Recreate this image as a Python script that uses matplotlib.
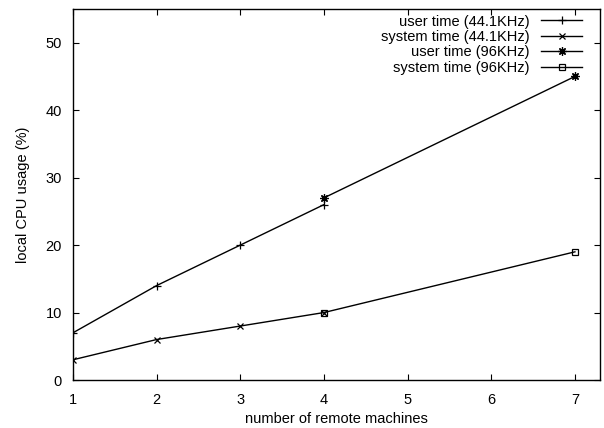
import matplotlib
matplotlib.use("Agg")
import matplotlib.pyplot as plt

plt.rcParams['font.family'] = ['Liberation Sans', 'DejaVu Sans']

x_441 = [1, 2, 3, 4]
user_441 = [7, 14, 20, 26]
sys_441 = [3, 6, 8, 10]
x_96 = [4, 7]
user_96 = [27, 45]
sys_96 = [10, 19]

labels = ["user time (44.1KHz)", "system time (44.1KHz)",
          "user time (96KHz)", "system time (96KHz)"]
xticks = [1, 2, 3, 4, 5, 6, 7]
yticks = [0, 10, 20, 30, 40, 50]

fig = plt.figure(figsize=(6.04, 4.28), dpi=100)
ax = fig.add_axes([73/604, 48/428, 527/604, 371/428])

kw = dict(color='black', lw=1.0, markerfacecolor='none', markeredgewidth=0.9)
ax.plot(x_441, user_441, marker='+', markersize=6, label=labels[0], **kw)
ax.plot(x_441, sys_441, marker='x', markersize=5, label=labels[1], **kw)
ax.plot(x_96, user_96, marker=(8, 2, 0), markersize=6, label=labels[2], **kw)
ax.plot(x_96, sys_96, marker='s', markersize=5, label=labels[3], **kw)

ax.set_xlim(1, 7.3)
ax.set_ylim(0, 55)
ax.set_xticks(xticks)
ax.set_yticks(yticks)
ax.tick_params(direction='in', top=True, right=True, length=4, width=0.8,
               labelsize=10.5)
ax.tick_params(axis='x', pad=9)
ax.tick_params(axis='y', pad=8)
for s in ax.spines.values():
    s.set_linewidth(1.0)

ax.set_xlabel("number of remote machines", fontsize=10.5, labelpad=4)
ax.set_ylabel("local CPU usage (%)", fontsize=10.5, labelpad=11)

leg = ax.legend(loc='upper right', markerfirst=False, frameon=False,
                fontsize=10.5, handlelength=2.8, handletextpad=0.8,
                labelspacing=0.1, borderaxespad=0.0, borderpad=0.0,
                bbox_to_anchor=(0.966, 0.985))

fig.savefig("out.png", dpi=100)
